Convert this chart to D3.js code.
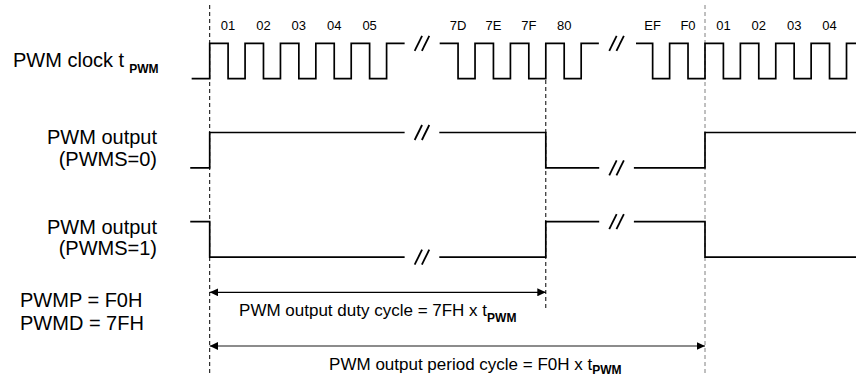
<!DOCTYPE html>
<html>
<head>
<meta charset="utf-8">
<script src="https://cdn.jsdelivr.net/npm/d3@7"></script>
<style>
  html, body { margin: 0; padding: 0; background: #fff; }
  svg { display: block; }
</style>
</head>
<body>
<svg id="container"></svg>
<script>
// clock pulses (cycle index of each rising edge) and the counter labels
const clockPulses1 = [0, 1, 2, 3, 4, 5]
const clockLabels1 = ['01', '02', '03', '04', '05']
const clockPulses2 = [6.5, 7.5, 8.5, 9.5, 10.5]
const clockLabels2 = ['7D', '7E', '7F', '80']
const clockPulses3 = [12, 13, 14, 15, 16, 17, 18]
const clockLabels3 = ['EF', 'F0', '01', '02', '03', '04']
const clockSpans = [[-0.51, 5.51], [6.5, 11.0], [12.05, 18.4]]

// output toggles (cycle index) for both polarities
const pwms0Edges = [0, 9.5, 14]
const pwms1Edges = [0, 9.5, 14]
const outputSpan = [-0.55, 18.4]

// time axis breaks ( // marks )
const breaks = [6.0, 11.5]

// markers: duty end and period end
const dutyEnd = 9.5
const periodEnd = 14

const rowLabels = [['PWM output', '(PWMS=0)'], ['PWM output', '(PWMS=1)']]
const regLabels = ['PWMP = F0H', 'PWMD = 7FH']

const FONT = 'Liberation Sans, Arial, Helvetica, sans-serif'
const HIGH = 0.52

const width = 856
const height = 376

const svg = d3
  .select('#container')
  .attr('width', width)
  .attr('height', height)
  .style('font-family', FONT)

svg.append('rect').attr('width', width).attr('height', height).attr('fill', '#fff')

const x = d3.scaleLinear().domain([0, 14]).range([209.7, 705])
// row 0 = clock, row 1 = PWMS=0, row 2 = PWMS=1 (y of high level)
const yRow = d3.scaleLinear().domain([0, 2]).range([43.3, 221.7])
const amp = 35.4

const defs = svg.append('defs')
defs
  .append('marker')
  .attr('id', 'arrow')
  .attr('markerUnits', 'userSpaceOnUse')
  .attr('markerWidth', 9)
  .attr('markerHeight', 8)
  .attr('refX', 8.5)
  .attr('refY', 4)
  .attr('orient', 'auto-start-reverse')
  .append('path')
  .attr('d', 'M0,0 L8.5,4 L0,8 Z')
  .attr('fill', '#000')

function levelPoints(from, to, level, edges) {
  const pts = []
  edges.forEach(e => {
    if (e <= from) level = 1 - level
  })
  pts.push([from, level])
  edges
    .filter(e => e > from && e < to)
    .forEach(e => {
      pts.push([e, level])
      level = 1 - level
      pts.push([e, level])
    })
  pts.push([to, level])
  return pts
}

// cut the flat runs at each break
function cutGaps(pts, gaps, half) {
  const out = [pts[0]]
  for (let i = 1; i < pts.length; i++) {
    const a = pts[i - 1]
    const b = pts[i]
    if (a[1] === b[1]) {
      gaps.forEach(g => {
        if (g - half > a[0] && g + half < b[0]) {
          out.push([g - half, a[1]], null, [g + half, a[1]])
        }
      })
    }
    out.push(b)
  }
  return out
}

function pulseEdges(pulses) {
  const e = []
  pulses.forEach(p => e.push(p, p + HIGH))
  return e
}

function drawWave(pts, row) {
  const line = d3
    .line()
    .defined(d => d)
    .x(d => x(d[0]))
    .y(d => yRow(row) + (1 - d[1]) * amp)
  svg
    .append('path')
    .attr('d', line(pts))
    .attr('fill', 'none')
    .attr('stroke', '#000')
    .attr('stroke-width', 1.7)
}

function drawBreak(t, row, level) {
  const cx = x(t)
  const cy = yRow(row) + (1 - level) * amp
  ;[-3.6, 3.6].forEach(o => {
    svg
      .append('line')
      .attr('x1', cx + o - 3.7)
      .attr('y1', cy + 7.5)
      .attr('x2', cx + o + 3.7)
      .attr('y2', cy - 7.5)
      .attr('stroke', '#000')
      .attr('stroke-width', 1.8)
  })
}

// dashed reference lines
const guides = [
  { t: 0, y1: 5, y2: 376, color: '#000' },
  { t: dutyEnd, y1: 80, y2: 310, color: '#000' },
  { t: periodEnd, y1: 5, y2: 376, color: '#808080' }
]
svg
  .selectAll('line.guide')
  .data(guides)
  .join('line')
  .attr('class', 'guide')
  .attr('x1', d => x(d.t))
  .attr('x2', d => x(d.t))
  .attr('y1', d => d.y1)
  .attr('y2', d => d.y2)
  .attr('stroke', d => d.color)
  .attr('stroke-width', 1)
  .attr('stroke-dasharray', '4,3')

// clock
const clockSegs = [
  [clockPulses1, clockLabels1],
  [clockPulses2, clockLabels2],
  [clockPulses3, clockLabels3]
]
clockSegs.forEach(([pulses, labels], i) => {
  const span = clockSpans[i]
  drawWave(levelPoints(span[0], span[1], 0, pulseEdges(pulses)), 0)
  svg
    .append('g')
    .selectAll('text')
    .data(labels)
    .join('text')
    .attr('x', (d, j) => x(pulses[j] + HIGH))
    .attr('y', 30)
    .attr('text-anchor', 'middle')
    .attr('font-size', 13)
    .attr('fill', '#000')
    .text(d => d)
})
breaks.forEach(b => drawBreak(b, 0, 1))

// outputs
const half = 0.49
drawWave(cutGaps(levelPoints(outputSpan[0], outputSpan[1], 0, pwms0Edges), breaks, half), 1)
drawWave(cutGaps(levelPoints(outputSpan[0], outputSpan[1], 1, pwms1Edges), breaks, half), 2)
drawBreak(breaks[0], 1, 1)
drawBreak(breaks[1], 1, 0)
drawBreak(breaks[0], 2, 0)
drawBreak(breaks[1], 2, 1)

// left labels
const clk = svg
  .append('text')
  .attr('x', 13)
  .attr('y', 66.7)
  .attr('font-size', 20)
  .attr('fill', '#000')
clk.append('tspan').text('PWM clock t')
clk
  .append('tspan')
  .attr('dx', 5)
  .attr('dy', 6.5)
  .attr('font-size', 12)
  .attr('font-weight', 'bold')
  .text('PWM')

rowLabels.forEach((lines, i) => {
  const base = yRow(i + 1) + 11.8
  lines.forEach((s, k) => {
    svg
      .append('text')
      .attr('x', 157)
      .attr('y', base + k * 21.5)
      .attr('text-anchor', 'end')
      .attr('font-size', 20)
      .attr('fill', '#000')
      .text(s)
  })
})

regLabels.forEach((s, k) => {
  svg
    .append('text')
    .attr('x', 20)
    .attr('y', 307.3 + k * 22.7)
    .attr('font-size', 20)
    .attr('fill', '#000')
    .text(s)
})

// dimension arrows
const dims = [
  { t1: dutyEnd, y: 292.3, color: '#000', text: 'PWM output duty cycle = 7FH x t', tx: x(dutyEnd / 2), ty: 316, sub: 6 },
  { t1: periodEnd, y: 346, color: '#666', text: 'PWM output period cycle = F0H x t', tx: x(periodEnd / 2) + 18, ty: 370, sub: 4 }
]
dims.forEach(d => {
  svg
    .append('line')
    .attr('x1', x(0))
    .attr('x2', x(d.t1))
    .attr('y1', d.y)
    .attr('y2', d.y)
    .attr('stroke', d.color)
    .attr('stroke-width', 1.3)
    .attr('marker-start', 'url(#arrow)')
    .attr('marker-end', 'url(#arrow)')
  const t = svg
    .append('text')
    .attr('x', d.tx)
    .attr('y', d.ty)
    .attr('text-anchor', 'middle')
    .attr('font-size', 17)
    .attr('fill', '#000')
  t.append('tspan').text(d.text)
  t.append('tspan')
    .attr('dy', d.sub)
    .attr('font-size', 12)
    .attr('font-weight', 'bold')
    .text('PWM')
})
</script>
</body>
</html>
